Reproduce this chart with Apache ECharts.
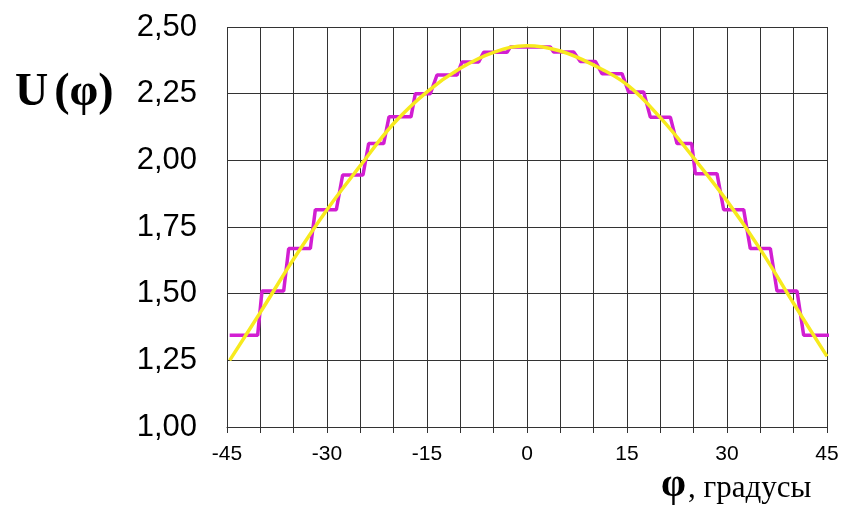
<!DOCTYPE html>
<html>
<head>
<meta charset="utf-8">
<script src="https://cdn.jsdelivr.net/npm/echarts@6/dist/echarts.min.js"></script>
<style>html,body{margin:0;padding:0;background:#fff}#c{width:843px;height:508px}</style>
</head>
<body>
<div id="c"></div>
<script>
// Smooth curve U(phi)
var curveX = [-44.6,-40,-35,-30,-25,-20,-15,-10,-5,0,5,10,15,20,25,30,35,40,45];
var curveY = [1.25,1.43,1.63,1.815,1.98,2.138,2.257,2.345,2.405,2.43,2.41,2.357,2.284,2.16,2.009,1.848,1.666,1.463,1.265];
// Staircase (quantised) curve: corner points
var stepX = [-44.6,-40.4,-39.75,-36.5,-35.75,-32.5,-31.75,-28.6,-27.65,-24.6,-23.75,-21.5,-20.7,-17.4,-16.75,-14.5,-13.5,-10.5,-9.75,-7.25,-6.5,-3,-2.5,3.5,4,7,8,10.25,11.25,14.25,15.25,17.5,18.5,21.5,22.5,24.7,25.25,28.5,29.5,32.5,33.5,36.5,37.5,40.5,41.5,45.3];
var stepY = [1.344,1.344,1.51,1.51,1.669,1.669,1.815,1.815,1.945,1.945,2.063,2.063,2.163,2.163,2.25,2.25,2.32,2.32,2.369,2.369,2.405,2.405,2.425,2.425,2.406,2.406,2.371,2.371,2.325,2.325,2.256,2.256,2.162,2.162,2.063,2.063,1.95,1.95,1.815,1.815,1.669,1.669,1.51,1.51,1.344,1.344];
var xTickLabels = ['-45','-30','-15','0','15','30','45'];
var yTickLabels = ['1,00','1,25','1,50','1,75','2,00','2,25','2,50'];

var chart = echarts.init(document.getElementById('c'), null, {renderer:'canvas'});
function pairs(xs, ys){ return xs.map(function(x,i){ return [x, ys[i]]; }); }
var gridColor = '#333333';
chart.setOption({
  animation: false,
  backgroundColor: '#ffffff',
  grid: {left: 227, right: 16, top: 27, bottom: 81},
  xAxis: {
    type: 'value', min: -45, max: 45, interval: 5,
    axisLine: {show: true, lineStyle: {color: gridColor, width: 1}},
    axisTick: {show: true, inside: false, length: 6, lineStyle: {color: gridColor}},
    splitLine: {show: true, lineStyle: {color: gridColor, width: 1}},
    axisLabel: {
      margin: 17, color: '#000', fontFamily: 'Liberation Sans', fontSize: 21,
      formatter: function(v){ var s = String(Math.round(v)); return xTickLabels.indexOf(s) >= 0 ? s : ''; }
    }
  },
  yAxis: {
    type: 'value', min: 1, max: 2.5, interval: 0.25,
    axisLine: {show: true, lineStyle: {color: gridColor, width: 1}},
    axisTick: {show: true, inside: false, length: 14, lineStyle: {color: gridColor}},
    splitLine: {show: true, lineStyle: {color: gridColor, width: 1}},
    axisLabel: {
      margin: 30, color: '#000', fontFamily: 'Liberation Sans', fontSize: 31, padding: [4,0,0,0],
      formatter: function(v){ var i = Math.round((v - 1) / 0.25); return yTickLabels[i] || ''; }
    }
  },
  series: [
    {type: 'line', data: pairs(stepX, stepY), showSymbol: false, symbol: 'none',
     lineStyle: {color: '#d21ed2', width: 3.5}, z: 3},
    {type: 'line', data: pairs(curveX, curveY), smooth: 0.4, showSymbol: false, symbol: 'none',
     lineStyle: {color: '#f7ea1e', width: 3.5}, z: 4}
  ],
  graphic: [
    {type: 'text', left: 15, top: 70, style: {
      text: '{u|U}{p|(φ)}',
      rich: {
        u: {fontFamily: 'Liberation Serif', fontWeight: 'bold', fontSize: 46, fill: '#000', padding: [0,6,0,0]},
        p: {fontFamily: 'Liberation Serif', fontWeight: 'bold', fontSize: 46, fill: '#000'}
      }
    }},
    {type: 'text', x: 661, y: 486, style: {text: 'φ', fontFamily: 'Liberation Serif', fontWeight: 'bold', fontSize: 40, fill: '#000', verticalAlign: 'middle'}},
    {type: 'text', x: 688, y: 489, style: {text: ', градусы', fontFamily: 'Liberation Serif', fontSize: 31, fill: '#000', verticalAlign: 'middle'}}
  ]
});
</script>
</body>
</html>
